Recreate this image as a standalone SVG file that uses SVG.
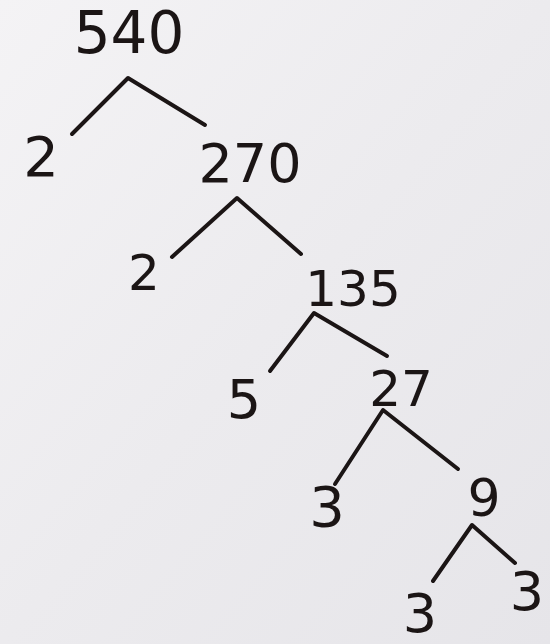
<svg xmlns="http://www.w3.org/2000/svg" width="550" height="644" viewBox="0 0 550 644">
  <defs>
    <linearGradient id="paper" x1="0" y1="0" x2="1" y2="1">
      <stop offset="0" stop-color="#f4f3f5"/>
      <stop offset="0.5" stop-color="#ecebee"/>
      <stop offset="1" stop-color="#e6e5e9"/>
    </linearGradient>
    <style>
      .n { font-family: "DejaVu Sans", "Liberation Sans", sans-serif; fill: #1b1515; text-anchor: middle; }
      .e { fill: none; stroke: #1b1515; stroke-width: 4; stroke-linecap: round; stroke-linejoin: round; }
    </style>
  </defs>

  <!-- paper -->
  <rect width="550" height="644" fill="url(#paper)"/>

  <!-- branches of the factor tree -->
  <g id="connectors">
    <polyline class="e" points="72,134 128,78 205,125"/>
    <polyline class="e" points="172,257 237,198 301,254"/>
    <polyline class="e" points="270,371 314,313 387,356"/>
    <polyline class="e" points="335,484 383,410 458,469"/>
    <polyline class="e" points="433,581 472,525 515,563"/>
  </g>

  <!-- factors -->
  <g id="n540"><text class="n" x="129" y="53" font-size="58">540</text></g>
  <g id="n2a"><text class="n" x="41" y="176" font-size="56">2</text></g>
  <g id="n270"><text class="n" x="250" y="182" font-size="54">270</text></g>
  <g id="n2b"><text class="n" x="144" y="290" font-size="50">2</text></g>
  <g id="n135"><text class="n" x="353" y="306" font-size="50">135</text></g>
  <g id="n5"><text class="n" x="244" y="418" font-size="54">5</text></g>
  <g id="n27"><text class="n" x="401" y="406" font-size="50">27</text></g>
  <g id="n3a"><text class="n" x="327" y="526" font-size="56">3</text></g>
  <g id="n9"><text class="n" x="484" y="516" font-size="52">9</text></g>
  <g id="n3b"><text class="n" x="420" y="632" font-size="54">3</text></g>
  <g id="n3c"><text class="n" x="527" y="610" font-size="54">3</text></g>
</svg>
